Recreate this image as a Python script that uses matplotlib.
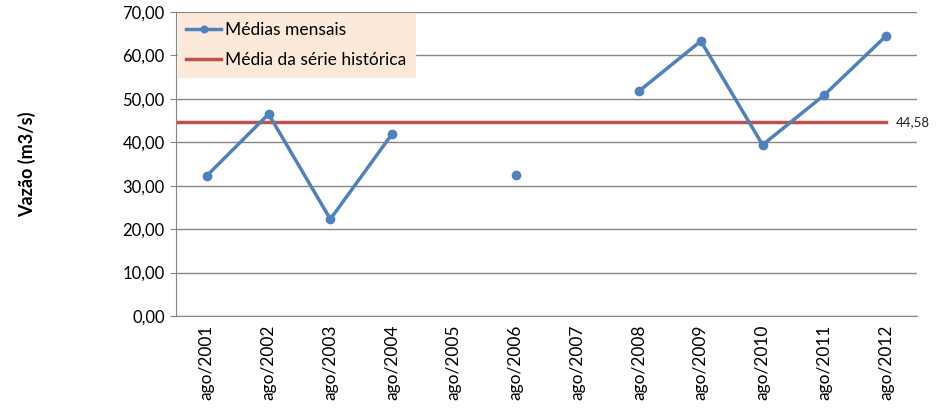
import numpy as np
import matplotlib.pyplot as plt

# Vazão média de agosto, 2001-2012

anos = ['ago/2001', 'ago/2002', 'ago/2003', 'ago/2004', 'ago/2005', 'ago/2006',
        'ago/2007', 'ago/2008', 'ago/2009', 'ago/2010', 'ago/2011', 'ago/2012']
medias = [32.3, 46.5, 22.3, 41.9, np.nan, 32.5, np.nan, 51.8, 63.3, 39.4, 50.9, 64.5]
media_hist = 44.58

plt.rcParams['font.family'] = ['Lato', 'DejaVu Sans']

fig = plt.figure(figsize=(9.44, 4.09), dpi=100)
ax = fig.add_axes([0.1864, 0.2274, 0.785, 0.7433])

x = np.arange(len(anos))
ax.plot(x, medias, color='#4F81BD', lw=2.5, marker='o', ms=6,
        label='Médias mensais', zorder=3)
ax.plot([x[0] - 0.5, x[-1]], [media_hist, media_hist], color='#C0504D', lw=2.5,
        label='Média da série histórica', zorder=2)
ax.text(x[-1] + 0.15, media_hist, '44,58', fontsize=9.5, va='center', color='#222222')

ax.set_xlim(-0.5, len(anos) - 0.5)
ax.set_ylim(0, 70)
ax.set_yticks(np.arange(0, 71, 10))
ax.set_yticklabels(['%d,00' % v for v in range(0, 71, 10)], fontsize=12)
ax.set_xticks(x)
ax.set_xticklabels(anos, rotation=90, fontsize=12.5)
ax.tick_params(axis='x', length=0, pad=6)
ax.tick_params(axis='y', length=4, color='#868686', pad=4)
ax.grid(axis='y', color='#868686', lw=1)
ax.set_axisbelow(True)
for s in ['top', 'right']:
    ax.spines[s].set_visible(False)
for s in ['left', 'bottom']:
    ax.spines[s].set_color('#868686')

ax.set_ylabel('Vazão (m3/s)', fontsize=13, fontweight='bold', labelpad=62)

leg = ax.legend(loc='upper left', bbox_to_anchor=(0.0, 1.0), fontsize=12.5,
                frameon=True, fancybox=False, borderaxespad=0.1,
                handlelength=2.0, handletextpad=0.2, labelspacing=0.8,
                markerscale=0.8, borderpad=0.5)
leg.get_frame().set_facecolor('#FDE9D9')
leg.get_frame().set_edgecolor('#FDE9D9')
leg.get_frame().set_alpha(1)

plt.savefig('out.png', dpi=100)
